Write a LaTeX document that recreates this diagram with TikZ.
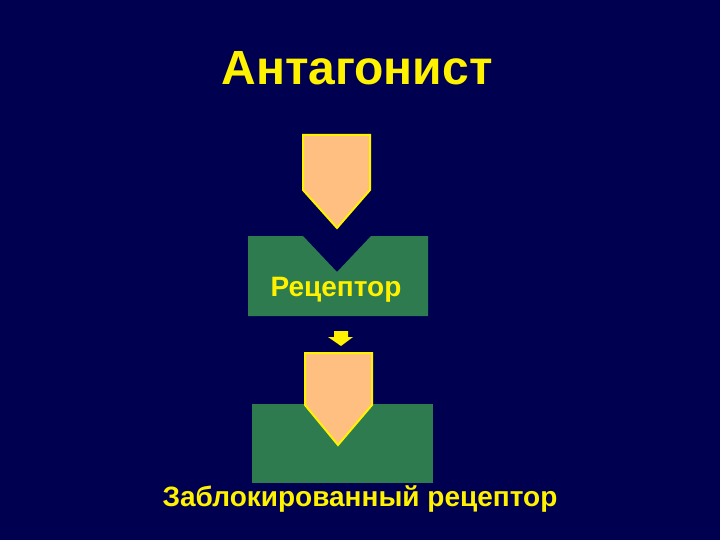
\documentclass[tikz,border=0pt]{standalone}
\usepackage{fontspec}
\setmainfont{Liberation Sans}
\usetikzlibrary{positioning}
\definecolor{slidebg}{RGB}{0,0,80}
\definecolor{peach}{RGB}{255,191,128}
\definecolor{rgreen}{RGB}{46,123,80}

\begin{document}
\begin{tikzpicture}[x=1pt,y=-1pt,
  receptor/.style = {fill=rgreen},
  drug/.style = {fill=peach, draw=yellow, line width=2pt, line join=miter},
  label/.style = {text=yellow, inner sep=0pt, font=\fontsize{28}{32}\selectfont\bfseries}]
\fill[slidebg] (0,0) rectangle (720,540);
\useasboundingbox (0,0) rectangle (720,540);

% title
\node[text=yellow, font=\fontsize{48}{56}\selectfont\bfseries] (title) at (357,68) {Антагонист};

% antagonist above the free receptor
\draw[drug] (303,135) -- (370,135) -- (370,190) -- (337,228) -- (303,190) -- cycle;
\fill[receptor] (248,236) -- (303,236) -- (337,272) -- (371,236) -- (428,236)
  -- (428,316) -- (248,316) -- cycle;
\node[label] (rec) at (336,290) {Рецептор};

% small arrow
\fill[yellow] (334,331) -- (348,331) -- (348,337) -- (353,337) -- (341,346)
  -- (328,337) -- (334,337) -- cycle;

% blocked receptor
\fill[receptor] (252,404) rectangle (433,483);
\draw[drug] (305,353) -- (372,353) -- (372,405) -- (338,445) -- (305,405) -- cycle;
\node[label] (blocked) at (360,499) {Заблокированный рецептор};
\end{tikzpicture}
\end{document}
